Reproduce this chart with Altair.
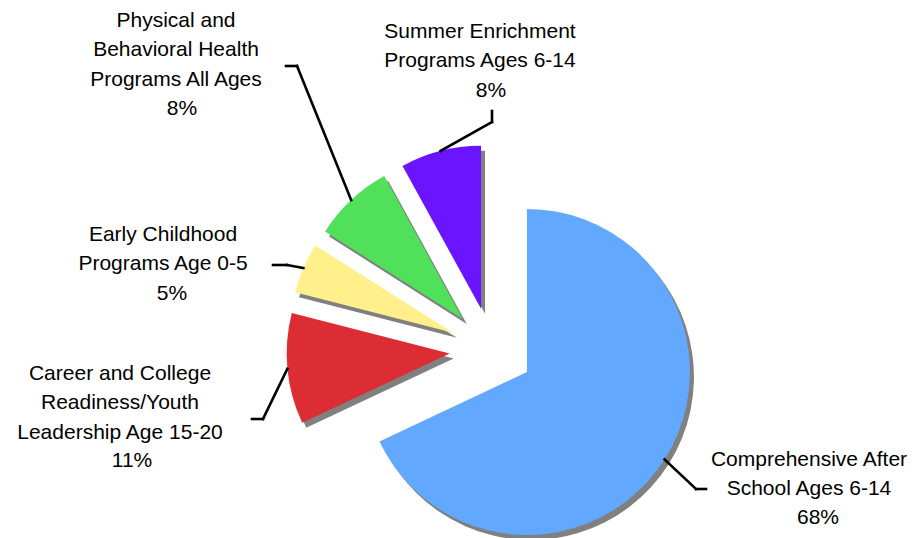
import altair as alt
import pandas as pd

# ---- data ----
categories = [
    "Comprehensive After School Ages 6-14",
    "Career and College Readiness/Youth Leadership Age 15-20",
    "Early Childhood Programs Age 0-5",
    "Physical and Behavioral Health Programs All Ages",
    "Summer Enrichment Programs Ages 6-14",
]
values = [68, 11, 5, 8, 8]
label_text = [
    "Comprehensive After\nSchool Ages 6-14",
    "Career and College\nReadiness/Youth\nLeadership Age 15-20",
    "Early Childhood\nPrograms Age 0-5",
    "Physical and\nBehavioral Health\nPrograms All Ages",
    "Summer Enrichment\nPrograms Ages 6-14",
]
colors = ["#62A8FF", "#DD2D34", "#FFF08C", "#50E05A", "#6A14FF"]

# ---- layout (pixels) ----
CX, CY, R, D = 491.5, 349.5, 163, 42
SHX, SHY = 4, 5
elbow_x = [696, 263, 287, 297, 492]
elbow_y = [489, 419, 265, 66, 122]
end_x = [706, 252, 273, 286, 492]
end_y = [489, 419, 265, 66, 111]
name_x = [809, 120, 163, 176, 480]
name_y = [466, 380, 241, 27, 38]
pct_x = [818, 132, 172, 182, 491]
pct_y = [524, 467, 300, 115, 97]

df = pd.DataFrame({
    "idx": list(range(len(categories))),
    "cat": categories,
    "value": values,
    "name": label_text,
    "ex": elbow_x, "ey": elbow_y,
    "tx": end_x, "ty": end_y,
    "nx": name_x, "ny": name_y,
    "qx": pct_x, "qy": pct_y,
})

def X(f):
    return alt.X(f"{f}:Q", scale=None, axis=None)

def Y(f):
    return alt.Y(f"{f}:Q", scale=None, axis=None)

color = alt.Color("cat:N", scale=alt.Scale(domain=categories, range=colors), legend=None)

shadow = alt.Chart().mark_arc(radius=R, color="#808080").encode(
    x=X("shx"), y=Y("shy"),
    theta=alt.Theta("t0:Q", scale=None), theta2=alt.Theta2("t1"),
)
slices = alt.Chart().mark_arc(radius=R).encode(
    x=X("px"), y=Y("py"),
    theta=alt.Theta("t0:Q", scale=None), theta2=alt.Theta2("t1"),
    color=color,
)
rule1 = alt.Chart().mark_rule(color="black", strokeWidth=2.6, strokeCap="square").encode(
    x=X("sx"), y=Y("sy"), x2=alt.X2("ex"), y2=alt.Y2("ey"),
)
rule2 = alt.Chart().mark_rule(color="black", strokeWidth=2.6, strokeCap="square").encode(
    x=X("ex"), y=Y("ey"), x2=alt.X2("tx"), y2=alt.Y2("ty"),
)
txt_props = dict(font="Liberation Sans", fontSize=21, align="center",
                 baseline="alphabetic", color="black")
names = alt.Chart().mark_text(lineBreak="\n", lineHeight=29.3, **txt_props).encode(
    x=X("nx"), y=Y("ny"), text="name:N",
)
pcts = alt.Chart().mark_text(**txt_props).encode(
    x=X("qx"), y=Y("qy"), text="pct:N",
)

chart = (
    alt.layer(shadow, slices, rule1, rule2, names, pcts, data=df)
    .transform_window(cum="sum(value)", sort=[alt.SortField("idx")], frame=[None, 0])
    .transform_joinaggregate(total="sum(value)")
    .transform_calculate(t0="(datum.cum - datum.value) / datum.total * 2 * PI")
    .transform_calculate(t1="datum.cum / datum.total * 2 * PI")
    .transform_calculate(mid="(datum.t0 + datum.t1) / 2")
    .transform_calculate(px=f"{CX} + {D} * sin(datum.mid)")
    .transform_calculate(py=f"{CY} - {D} * cos(datum.mid)")
    .transform_calculate(shx=f"datum.px + {SHX}")
    .transform_calculate(shy=f"datum.py + {SHY}")
    .transform_calculate(sx=f"datum.px + {R} * sin(datum.mid)")
    .transform_calculate(sy=f"datum.py - {R} * cos(datum.mid)")
    .transform_calculate(pct="datum.value + '%'")
    .properties(width=913, height=538, padding=0,
                autosize=alt.AutoSizeParams(type="none"))
    .configure_view(stroke=None)
)

chart.save("out.html", embed_options={"renderer": "svg", "actions": False})
